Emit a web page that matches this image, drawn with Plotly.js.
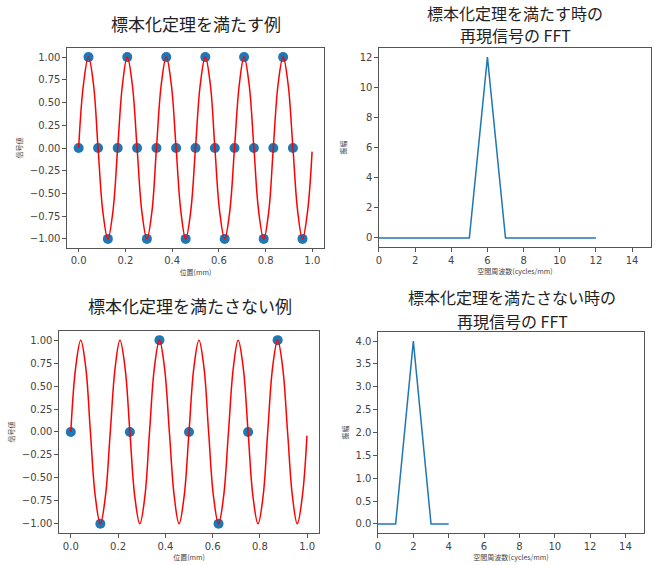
<!DOCTYPE html>
<html>
<head>
<meta charset="utf-8">
<script src="https://cdn.plot.ly/plotly-3.0.1.min.js"></script>
<style>html,body{margin:0;padding:0;background:#fff;}#chart{width:656px;height:565px;}</style>
</head>
<body>
<div id="chart"></div>
<script>
// Continuous signal (red curve)
const curveX = [0, 0.021, 0.042, 0.063, 0.083, 0.104, 0.125, 0.146, 0.167, 0.188, 0.208, 0.229,
  0.25, 0.271, 0.292, 0.313, 0.333, 0.354, 0.375, 0.396, 0.417, 0.438, 0.458, 0.479,
  0.5, 0.521, 0.542, 0.563, 0.583, 0.604, 0.625, 0.646, 0.667, 0.688, 0.708, 0.729,
  0.75, 0.771, 0.792, 0.813, 0.833, 0.854, 0.875, 0.896, 0.917, 0.938, 0.958, 0.979, 0.999];
const curveY = [0, 0.71, 1, 0.71, 0, -0.71, -1, -0.71,
  0, 0.71, 1, 0.71, 0, -0.71, -1, -0.71,
  0, 0.71, 1, 0.71, 0, -0.71, -1, -0.71,
  0, 0.71, 1, 0.71, 0, -0.71, -1, -0.71,
  0, 0.71, 1, 0.71, 0, -0.71, -1, -0.71,
  0, 0.71, 1, 0.71, 0, -0.71, -1, -0.71, -0.04];
// Samples satisfying the sampling theorem
const sampleOkX = [0, 0.042, 0.083, 0.125, 0.167, 0.208, 0.25, 0.292, 0.333, 0.375, 0.417, 0.458,
  0.5, 0.542, 0.583, 0.625, 0.667, 0.708, 0.75, 0.792, 0.833, 0.875, 0.917, 0.958];
const sampleOkY = [0, 1, 0, -1, 0, 1, 0, -1, 0, 1, 0, -1, 0, 1, 0, -1, 0, 1, 0, -1, 0, 1, 0, -1];
// Samples violating the sampling theorem
const sampleNgX = [0, 0.125, 0.25, 0.375, 0.5, 0.625, 0.75, 0.875];
const sampleNgY = [0, -1, 0, 1, 0, -1, 0, 1];
// FFT spectra
const fftOkFreq = [0, 1, 2, 3, 4, 5, 6, 7, 8, 9, 10, 11, 12];
const fftOkAmp = [0, 0, 0, 0, 0, 0, 12, 0, 0, 0, 0, 0, 0];
const fftNgFreq = [0, 1, 2, 3, 4];
const fftNgAmp = [0, 0, 4, 0, 0];
// Titles
const titles = ['標本化定理を満たす例', '標本化定理を満たす時の', '再現信号の FFT',
  '標本化定理を満たさない例', '標本化定理を満たさない時の', '再現信号の FFT'];

const blue = '#1f77b4';
const tickFont = {family: 'DejaVu Sans', size: 10, color: '#444'};
const smallFont = {family: 'Noto Sans CJK JP', size: 7, color: '#444'};
const titleFontL = {family: 'Noto Sans CJK JP', size: 17, color: '#222'};
const titleFontR = {family: 'Noto Sans CJK JP', size: 16, color: '#222'};

function ax(extra) {
  return Object.assign({
    showline: true, mirror: true, linecolor: '#555', linewidth: 1,
    ticks: 'outside', ticklen: 3.5, tickcolor: '#555', tickwidth: 1,
    showgrid: false, zeroline: false, tickfont: tickFont
  }, extra);
}

const traces = [
  {x: sampleOkX, y: sampleOkY, mode: 'markers', marker: {color: blue, size: 10}, xaxis: 'x', yaxis: 'y'},
  {x: curveX, y: curveY, mode: 'lines', line: {color: 'red', width: 1.5, shape: 'spline', smoothing: 1.1}, xaxis: 'x', yaxis: 'y'},
  {x: fftOkFreq, y: fftOkAmp, mode: 'lines', line: {color: blue, width: 1.5}, xaxis: 'x2', yaxis: 'y2'},
  {x: sampleNgX, y: sampleNgY, mode: 'markers', marker: {color: blue, size: 10}, xaxis: 'x3', yaxis: 'y3'},
  {x: curveX, y: curveY, mode: 'lines', line: {color: 'red', width: 1.5, shape: 'spline', smoothing: 1.1}, xaxis: 'x3', yaxis: 'y3'},
  {x: fftNgFreq, y: fftNgAmp, mode: 'lines', line: {color: blue, width: 1.5}, xaxis: 'x4', yaxis: 'y4'}
];

function ann(text, px, py, font) {
  return {text: text, xref: 'paper', yref: 'paper', x: px / 656, y: 1 - py / 565,
    xanchor: 'center', yanchor: 'middle', borderpad: 0, showarrow: false, font: font};
}

const layout = {
  width: 656, height: 565,
  margin: {l: 0, r: 0, t: 0, b: 0},
  paper_bgcolor: '#fff', plot_bgcolor: '#fff',
  showlegend: false,
  xaxis: ax({domain: [0.1021, 0.4939], anchor: 'y', range: [-0.05, 1.05], tickvals: [0, 0.2, 0.4, 0.6, 0.8, 1.0], tickformat: '.1f',
    title: {text: '位置(mm)', font: smallFont, standoff: 4}}),
  yaxis: ax({domain: [0.5611, 0.9150], anchor: 'x', range: [-1.1, 1.1], tickvals: [-1, -0.75, -0.5, -0.25, 0, 0.25, 0.5, 0.75, 1], tickformat: '.2f',
    title: {text: '信号値', font: smallFont, standoff: 6}}),
  xaxis2: ax({domain: [0.5777, 0.9924], anchor: 'y2', range: [0, 15.05], tickvals: [0, 2, 4, 6, 8, 10, 12, 14],
    title: {text: '空間周波数(cycles/mm)', font: smallFont, standoff: 4}}),
  yaxis2: ax({domain: [0.5628, 0.9150], anchor: 'x2', range: [-0.6, 12.6], tickvals: [0, 2, 4, 6, 8, 10, 12],
    title: {text: '振幅', font: smallFont, standoff: 12}}),
  xaxis3: ax({domain: [0.0899, 0.4863], anchor: 'y3', range: [-0.05, 1.05], tickvals: [0, 0.2, 0.4, 0.6, 0.8, 1.0], tickformat: '.1f',
    title: {text: '位置(mm)', font: smallFont, standoff: 4}}),
  yaxis3: ax({domain: [0.0566, 0.4142], anchor: 'x3', range: [-1.1, 1.1], tickvals: [-1, -0.75, -0.5, -0.25, 0, 0.25, 0.5, 0.75, 1], tickformat: '.2f',
    title: {text: '信号値', font: smallFont, standoff: 6}}),
  xaxis4: ax({domain: [0.5762, 0.9817], anchor: 'y4', range: [0, 15.05], tickvals: [0, 2, 4, 6, 8, 10, 12, 14],
    title: {text: '空間周波数(cycles/mm)', font: smallFont, standoff: 4}}),
  yaxis4: ax({domain: [0.0566, 0.4124], anchor: 'x4', range: [-0.2, 4.2], tickvals: [0, 0.5, 1, 1.5, 2, 2.5, 3, 3.5, 4], tickformat: '.1f',
    title: {text: '振幅', font: smallFont, standoff: 6}}),
  annotations: [
    ann(titles[0], 196, 23, titleFontL),
    ann(titles[1], 515, 12.5, titleFontR),
    ann(titles[2], 515, 35.5, titleFontR),
    ann(titles[3], 190, 305, titleFontL),
    ann(titles[4], 512, 297, titleFontR),
    ann(titles[5], 512, 320.5, titleFontR)
  ]
};

Plotly.newPlot('chart', traces, layout, {staticPlot: true, displayModeBar: false});
</script>
</body>
</html>
